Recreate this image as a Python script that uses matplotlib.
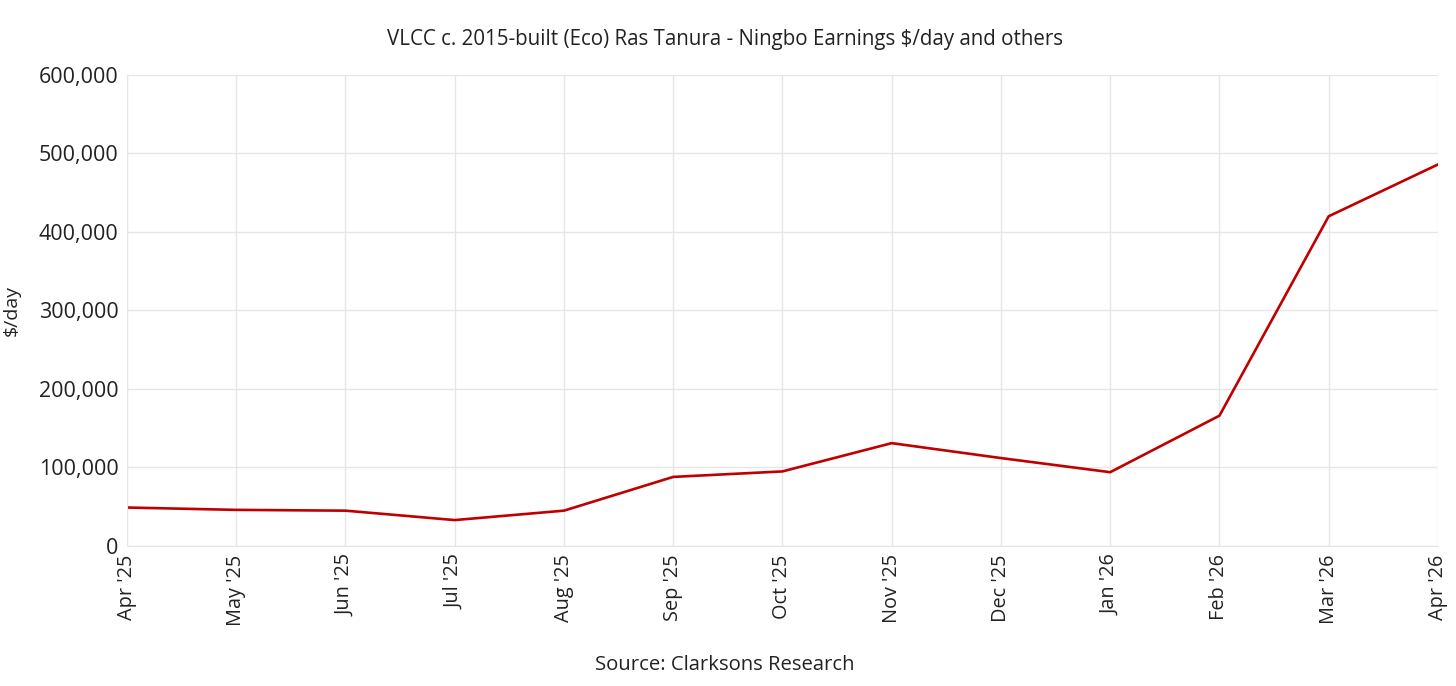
import matplotlib.pyplot as plt
from matplotlib.ticker import FuncFormatter

months = ["Apr '25", "May '25", "Jun '25", "Jul '25", "Aug '25", "Sep '25", "Oct '25",
          "Nov '25", "Dec '25", "Jan '26", "Feb '26", "Mar '26", "Apr '26"]
earnings = [49000, 46000, 45000, 33000, 45000, 88000, 95000,
            131000, 112000, 94000, 166000, 420000, 486000]
yticks = [0, 100000, 200000, 300000, 400000, 500000, 600000]

plt.rcParams["font.family"] = ["Open Sans", "DejaVu Sans"]
TEXT = "#222222"
GRID = "#e6e6e6"

fig = plt.figure(figsize=(14.56, 6.86), dpi=100)
ax = fig.add_axes([0.0872, 0.2041, 0.9004, 0.6866])

x = list(range(len(months)))
ax.plot(x, earnings, color="#c00000", linewidth=1.9, solid_joinstyle="miter")

ax.set_xlim(0, len(months) - 1)
ax.set_ylim(0, 600000)
ax.set_xticks(x)
ax.set_xticklabels(months, rotation=90, fontsize=14.3, color=TEXT)
ax.set_yticks(yticks)
ax.yaxis.set_major_formatter(FuncFormatter(lambda v, p: f"{int(v):,}"))
ax.tick_params(axis="y", length=0, pad=6, labelsize=15.5, labelcolor=TEXT)
ax.tick_params(axis="x", length=0, pad=6)

# grid
ax.grid(True, color=GRID, linewidth=1)
ax.set_axisbelow(True)
for s in ["top", "right"]:
    ax.spines[s].set_visible(False)
for s in ["left", "bottom"]:
    ax.spines[s].set_color(GRID)

ax.set_ylabel("$/day", fontsize=14, color=TEXT, labelpad=8)
ax.yaxis.set_label_coords(-0.081, 0.5)

fig.text(0.498, 0.943, "VLCC c. 2015-built (Eco) Ras Tanura - Ningbo Earnings $/day and others",
         ha="center", va="center", fontsize=14.8, color=TEXT)
fig.text(0.498, 0.030, "Source: Clarksons Research",
         ha="center", va="center", fontsize=14.6, color=TEXT)

fig.savefig("out.png", dpi=100)
